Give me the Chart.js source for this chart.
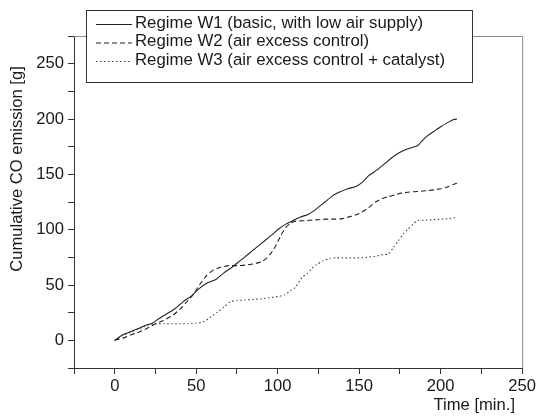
<!DOCTYPE html>
<html>
<head>
<meta charset="utf-8">
<title>Cumulative CO emission</title>
<script src="https://cdn.jsdelivr.net/npm/chart.js@4.4.1/dist/chart.umd.min.js"></script>
<style>
  body { margin: 0; background: #fff; }
  canvas { display: block; }
</style>
</head>
<body>
<canvas id="co-chart" width="538" height="416"></canvas>
<script>
/*-------------------
 Data
 -------------------*/
// Regime W1 - basic, with low air supply
const w1Time = [0, 5, 10, 15, 20, 23, 27, 32, 37, 42, 47, 52, 57, 62, 67, 72, 77, 82, 87, 92, 97, 101, 105, 109, 114, 119, 124, 129, 134, 138, 143, 148, 152, 156, 161, 166, 170, 174, 178, 182, 186, 189, 192, 196, 200, 204, 208, 210];
const w1Co = [0, 5, 8, 11, 14, 15.5, 19.5, 24, 28.5, 35, 40, 47, 52, 55, 61, 66, 72, 78, 84, 90, 96, 101, 105, 108, 111.5, 114, 119, 125, 131, 134, 137, 139, 143, 149, 154, 160, 165, 169, 172, 174, 176, 181, 185, 189, 193, 196.5, 199.5, 200];

// Regime W2 - air excess control
const w2Time = [0, 5, 10, 15, 20, 25, 30, 35, 40, 45, 48, 52, 56, 60, 65, 70, 75, 80, 85, 90, 93, 96, 99, 102, 105, 108, 111, 115, 120, 125, 130, 135, 140, 145, 150, 155, 160, 164, 168, 172, 176, 181, 186, 192, 196, 200, 204, 208, 210];
const w2Co = [0, 2, 5, 7.5, 11, 15, 18, 22, 28, 36, 41, 50, 58, 63, 66, 67.5, 67.5, 68, 69, 71, 74, 79, 86, 95, 102, 106, 107.7, 108, 108.5, 109, 109.5, 109.5, 110, 112, 114.5, 119, 125, 128, 130, 131.5, 133, 134, 134.5, 135.3, 136, 137, 138.5, 141, 142];

// Regime W3 - air excess control + catalyst
const w3Time = [0, 5, 10, 15, 20, 24, 30, 35, 40, 45, 50, 54, 58, 63, 67, 71, 75, 80, 85, 90, 95, 100, 104, 108, 111, 115, 118, 121, 124, 128, 132, 136, 140, 145, 150, 155, 160, 165, 168, 171, 174, 177, 180, 183, 186, 190, 195, 200, 205, 210];
const w3Co = [0, 4.5, 7.5, 10.5, 13.5, 15, 15, 15, 15, 15, 15.5, 16.5, 20, 25.5, 30, 35, 36, 36.5, 37, 37.5, 38.5, 39.5, 41, 45, 48, 57, 60, 65, 68.5, 72, 74, 74.5, 74.5, 74.5, 74.5, 75, 76, 77.5, 78, 84, 90, 96, 100.5, 105, 108.3, 108.5, 109, 109.5, 110, 111];

const seriesLabels = [
  'Regime W1 (basic, with low air supply)',
  'Regime W2 (air excess control)',
  'Regime W3 (air excess control + catalyst)'
];

const xTitle = 'Time [min.]';
const yTitle = 'Cumulative CO emission [g]';

// pair up time / emission arrays into {x, y} points
function toPoints(times, values) {
  return times.map((t, i) => ({ x: t, y: values[i] }));
}

const fontFamily = '"Liberation Sans", Arial, Helvetica, sans-serif';
const inkColor = '#1a1a1a';

/*-------------------
 Frame, axis titles and boxed legend
 -------------------*/
const framePlugin = {
  id: 'frame',
  beforeDatasetsDraw(chart) {
    const { ctx, chartArea } = chart;
    ctx.save();
    ctx.strokeStyle = '#8a8a8a';
    ctx.lineWidth = 1;
    ctx.beginPath();
    ctx.moveTo(chartArea.left, chartArea.top + 0.5);
    ctx.lineTo(chartArea.right + 0.5, chartArea.top + 0.5);
    ctx.lineTo(chartArea.right + 0.5, chartArea.bottom);
    ctx.stroke();
    ctx.restore();
  },
  afterDraw(chart) {
    const { ctx } = chart;
    ctx.save();
    ctx.font = '16.6px ' + fontFamily;
    ctx.fillStyle = inkColor;

    // axis titles
    ctx.textAlign = 'right';
    ctx.textBaseline = 'middle';
    ctx.fillText(xTitle, 515, 405);
    ctx.save();
    ctx.translate(17, 169);
    ctx.rotate(-Math.PI / 2);
    ctx.textAlign = 'center';
    ctx.fillText(yTitle, 0, 0);
    ctx.restore();

    // legend box
    const box = { left: 86, top: 10, right: 472, bottom: 82 };
    ctx.fillStyle = '#fff';
    ctx.fillRect(box.left, box.top, box.right - box.left, box.bottom - box.top);
    ctx.strokeStyle = '#333';
    ctx.lineWidth = 1;
    ctx.strokeRect(box.left + 0.5, box.top + 0.5, box.right - box.left, box.bottom - box.top);

    ctx.font = '16.8px ' + fontFamily;
    const rows = [23, 41.5, 60];
    chart.data.datasets.forEach((ds, i) => {
      const y = rows[i];
      ctx.strokeStyle = ds.borderColor;
      ctx.lineWidth = 1;
      ctx.setLineDash(ds.borderDash || []);
      ctx.beginPath();
      ctx.moveTo(96, y + 1.5);
      ctx.lineTo(132, y + 1.5);
      ctx.stroke();
      ctx.setLineDash([]);
      ctx.fillStyle = inkColor;
      ctx.textAlign = 'left';
      ctx.fillText(ds.label, 135, y);
    });
    ctx.restore();
  }
};

/*-------------------
 Line Chart
 -------------------*/
const coCanvas = document.getElementById('co-chart');

const coData = {
  datasets: [{
    label: seriesLabels[0],
    data: toPoints(w1Time, w1Co),
    borderColor: '#222',
    borderWidth: 1.1,
    pointRadius: 0,
    tension: 0.2
  }, {
    label: seriesLabels[1],
    data: toPoints(w2Time, w2Co),
    borderColor: '#222',
    borderWidth: 1.1,
    borderDash: [5, 3],
    pointRadius: 0,
    tension: 0.2
  }, {
    label: seriesLabels[2],
    data: toPoints(w3Time, w3Co),
    borderColor: '#444',
    borderWidth: 1.1,
    borderDash: [1.5, 2.5],
    pointRadius: 0,
    tension: 0.2
  }]
};

const tickFont = { family: fontFamily, size: 16.6 };

const coOptions = {
  responsive: false,
  animation: false,
  devicePixelRatio: 1,
  layout: {
    padding: { top: 36, right: 15, left: 0, bottom: 0 }
  },
  scales: {
    x: {
      type: 'linear',
      min: -25,
      max: 250,
      afterFit: (scale) => { scale.height = 48; },
      border: { color: '#333', width: 1 },
      grid: { drawOnChartArea: false, drawTicks: true, tickLength: 6, color: '#333' },
      ticks: {
        stepSize: 25,
        padding: 2,
        color: inkColor,
        font: tickFont,
        maxRotation: 0,
        autoSkip: false,
        callback: (v) => (v % 50 === 0 ? v : '')
      }
    },
    y: {
      type: 'linear',
      min: -25,
      max: 275,
      afterFit: (scale) => { scale.width = 74; },
      border: { color: '#333', width: 1 },
      grid: { drawOnChartArea: false, drawTicks: true, tickLength: 6, color: '#333' },
      ticks: {
        stepSize: 25,
        padding: 4,
        color: inkColor,
        font: tickFont,
        autoSkip: false,
        callback: (v) => (v % 50 === 0 && v <= 250 ? v : '')
      }
    }
  },
  plugins: {
    legend: { display: false },
    tooltip: { enabled: false }
  }
};

let coChart = new Chart(coCanvas, {
  type: 'line',
  data: coData,
  options: coOptions,
  plugins: [framePlugin]
});
</script>
</body>
</html>
